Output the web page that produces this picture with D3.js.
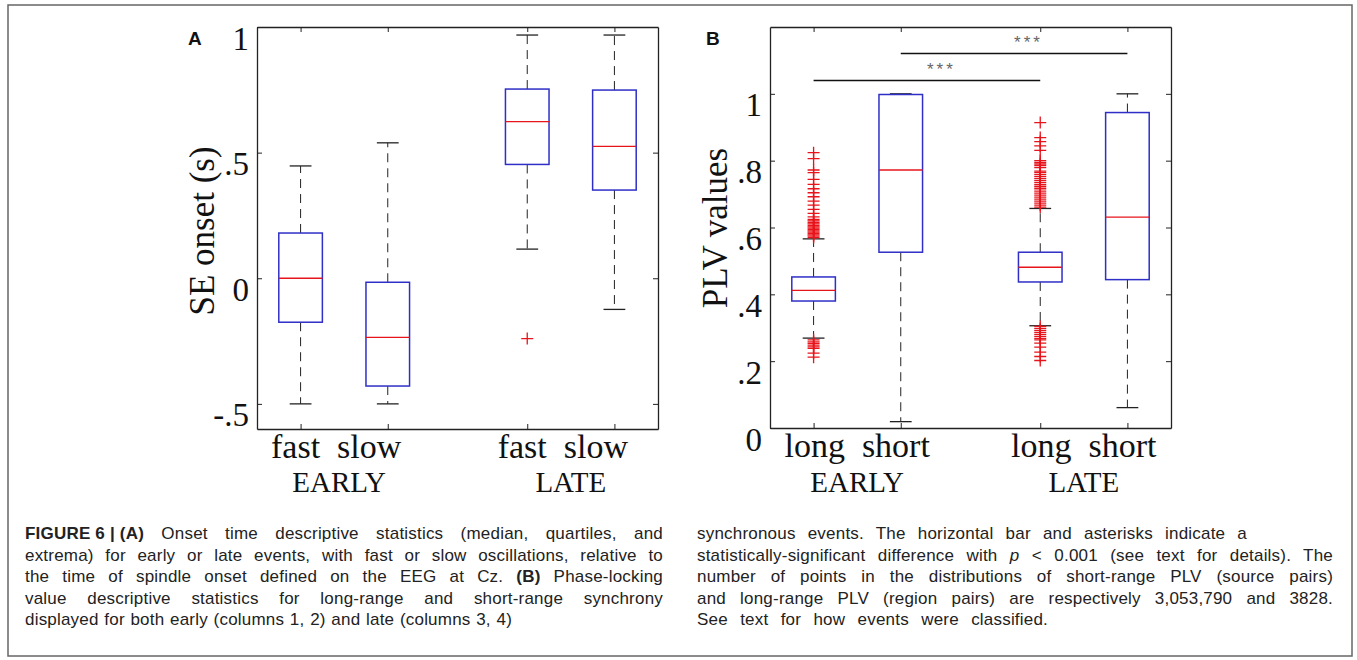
<!DOCTYPE html>
<html><head><meta charset="utf-8">
<script src="https://cdn.jsdelivr.net/npm/d3@7"></script>
<style>
body{margin:0;background:#fff;}
svg{display:block;}
</style></head><body>
<svg id="fig" width="1357" height="660"></svg>
<script>
// ---------- data ----------
const positions = [1, 2, 3.6, 4.6];
const xDomain = [0.5, 5.1];

// Panel A: SE onset (s)
const aConditions = ["fast", "slow"];
const aGroups = ["EARLY", "LATE"];
const aYTicks = [-0.5, 0, 0.5, 1];
const aYTickLabels = ["-.5", "0", ".5", "1"];
const aLow = [-0.5, -0.5, 0.116, -0.124];
const aQ1 = [-0.175, -0.429, 0.453, 0.351];
const aMed = [0.0, -0.235, 0.623, 0.525];
const aQ3 = [0.18, -0.016, 0.753, 0.749];
const aHigh = [0.447, 0.539, 0.968, 0.968];
const aOutliers = [[], [], [-0.24], []];

// Panel B: PLV values
const bConditions = ["long", "short"];
const bGroups = ["EARLY", "LATE"];
const bYTicks = [0, 0.2, 0.4, 0.6, 0.8, 1];
const bYTickLabels = ["0", ".2", ".4", ".6", ".8", "1"];
const bLow = [0.269, 0.019, 0.306, 0.061];
const bQ1 = [0.380, 0.526, 0.437, 0.444];
const bMed = [0.412, 0.772, 0.481, 0.631];
const bQ3 = [0.452, 0.998, 0.526, 0.944];
const bHigh = [0.566, 1.0, 0.657, 1.0];
const bOutliersLongEarly = [0.824, 0.806, 0.772, 0.764, 0.744, 0.729, 0.716, 0.704, 0.692, 0.679, 0.667, 0.654, 0.642, 0.632,
  0.624, 0.620, 0.615, 0.611, 0.606, 0.602, 0.598, 0.594, 0.590, 0.586, 0.582, 0.578, 0.574, 0.570,
  0.264, 0.258, 0.253, 0.248, 0.243, 0.238, 0.224, 0.212];
const bOutliersLongLate = [0.914, 0.869, 0.857, 0.844, 0.831, 0.800, 0.795, 0.790, 0.785, 0.779, 0.769, 0.764, 0.758,
  0.752, 0.746, 0.740, 0.734, 0.728, 0.722, 0.716, 0.709, 0.703, 0.697, 0.691, 0.685, 0.679, 0.673, 0.667, 0.661,
  0.304, 0.298, 0.292, 0.286, 0.280, 0.274, 0.268, 0.264, 0.254, 0.242, 0.227, 0.214, 0.202];
const bOutliers = [bOutliersLongEarly, [], bOutliersLongLate, []];
// significance bars
const sigFrom = [1, 2];
const sigTo = [3.6, 4.6];
const sigY = [1.04, 1.121];
const sigText = ["***", "***"];

// caption
const captionLeft = [
  [["FIGURE 6 | (A)", "b"], [" Onset time descriptive statistics (median, quartiles, and", ""]],
  [["extrema) for early or late events, with fast or slow oscillations, relative to", ""]],
  [["the time of spindle onset defined on the EEG at Cz. ", ""], ["(B)", "b"], [" Phase-locking", ""]],
  [["value descriptive statistics for long-range and short-range synchrony", ""]],
  [["displayed for both early (columns 1, 2) and late (columns 3, 4)", ""]]
];
const captionRight = [
  [["synchronous events. The horizontal bar and asterisks indicate a", ""]],
  [["statistically-significant difference with ", ""], ["p", "i"], [" < 0.001 (see text for details). The", ""]],
  [["number of points in the distributions of short-range PLV (source pairs)", ""]],
  [["and long-range PLV (region pairs) are respectively 3,053,790 and 3828.", ""]],
  [["See text for how events were classified.", ""]]
];

// ---------- drawing ----------
const svg = d3.select("#fig");
const SERIF = "'Liberation Serif','Times New Roman',serif";
const SANS = "'Liberation Sans',Arial,sans-serif";
const BLUE = "#2f2fc8", RED = "#e8141b", AX = "#222";

// figure border
svg.append("rect").attr("x", 8).attr("y", 5).attr("width", 1344).attr("height", 651)
  .attr("fill", "none").attr("stroke", "#666").attr("stroke-width", 1.5);

function drawPanel(cfg) {
  const W = cfg.right - cfg.left, H = cfg.bottom - cfg.top;
  const g = svg.append("g").attr("transform", `translate(${cfg.left},${cfg.top})`);
  const x = d3.scaleLinear().domain(xDomain).range([0, W]);
  const y = d3.scaleLinear().domain(cfg.yDomain).range([H, 0]);

  // axes (inward ticks on all four sides)
  const gl = g.append("g").call(d3.axisLeft(y).tickValues(cfg.yTicks)
    .tickFormat((d, i) => cfg.yTickLabels[i]).tickSizeInner(-5).tickSizeOuter(0));
  gl.selectAll("text").attr("x", -8).attr("dy", null).attr("y", 22)
    .attr("font-family", SERIF).attr("font-size", 33).attr("fill", "#111");
  g.append("g").attr("transform", `translate(${W},0)`).call(d3.axisRight(y).tickValues(cfg.yTicks)
    .tickFormat("").tickSizeInner(-5).tickSizeOuter(0));
  g.append("g").call(d3.axisTop(x).tickValues(positions).tickFormat("").tickSizeInner(-5).tickSizeOuter(0));
  g.append("g").attr("transform", `translate(0,${H})`).call(d3.axisBottom(x).tickValues(positions)
    .tickFormat("").tickSizeInner(-5).tickSizeOuter(0));
  g.selectAll(".domain").attr("stroke", AX).attr("stroke-width", 1.3);
  g.selectAll(".tick line").attr("stroke", AX).attr("stroke-width", 1);

  const idx = d3.range(positions.length);
  // whiskers
  g.selectAll(".wu").data(idx).join("line")
    .attr("x1", i => x(positions[i])).attr("x2", i => x(positions[i]))
    .attr("y1", i => y(cfg.q3[i])).attr("y2", i => y(cfg.high[i]))
    .attr("stroke", "#222").attr("stroke-width", 1).attr("stroke-dasharray", "9,6");
  g.selectAll(".wl").data(idx).join("line")
    .attr("x1", i => x(positions[i])).attr("x2", i => x(positions[i]))
    .attr("y1", i => y(cfg.q1[i])).attr("y2", i => y(cfg.low[i]))
    .attr("stroke", "#222").attr("stroke-width", 1).attr("stroke-dasharray", "9,6");
  // caps
  [cfg.high, cfg.low].forEach(arr => {
    g.append("g").selectAll("line").data(idx).join("line")
      .attr("x1", i => x(positions[i] - 0.125)).attr("x2", i => x(positions[i] + 0.125))
      .attr("y1", i => y(arr[i])).attr("y2", i => y(arr[i]))
      .attr("stroke", "#222").attr("stroke-width", 1.3);
  });
  // boxes
  g.append("g").selectAll("rect").data(idx).join("rect")
    .attr("x", i => x(positions[i] - 0.25)).attr("width", i => x(positions[i] + 0.25) - x(positions[i] - 0.25))
    .attr("y", i => y(cfg.q3[i])).attr("height", i => y(cfg.q1[i]) - y(cfg.q3[i]))
    .attr("fill", "none").attr("stroke", BLUE).attr("stroke-width", 1.5);
  // medians
  g.append("g").selectAll("line").data(idx).join("line")
    .attr("x1", i => x(positions[i] - 0.25)).attr("x2", i => x(positions[i] + 0.25))
    .attr("y1", i => y(cfg.med[i])).attr("y2", i => y(cfg.med[i]))
    .attr("stroke", RED).attr("stroke-width", 1.3);
  // outliers
  const outs = [];
  cfg.outliers.forEach((arr, i) => arr.forEach(v => outs.push({p: positions[i], v})));
  g.append("g").selectAll("path").data(outs).join("path")
    .attr("transform", d => `translate(${x(d.p)},${y(d.v)})`)
    .attr("d", "M-6,0H6M0,-6V6").attr("stroke", RED).attr("stroke-width", 1.3).attr("fill", "none");

  // significance bars
  if (cfg.sig) {
    cfg.sig.from.forEach((f, k) => {
      const t = cfg.sig.to[k], yy = y(cfg.sig.y[k]);
      g.append("line").attr("x1", x(f)).attr("x2", x(t)).attr("y1", yy).attr("y2", yy)
        .attr("stroke", "#111").attr("stroke-width", 1.5);
      g.append("text").attr("x", (x(f) + x(t)) / 2).attr("y", yy - 5)
        .attr("font-family", SANS).attr("font-size", 17).attr("letter-spacing", 3)
        .attr("fill", "#666").text(cfg.sig.text[k]);
    });
  }

  // x labels: condition row and group row
  [0, 1].forEach(gi => {
    const mid = (x(positions[gi * 2]) + x(positions[gi * 2 + 1])) / 2;
    g.append("text").attr("x", mid + cfg.condShift).attr("y", cfg.condY - cfg.top)
      .attr("text-anchor", "middle").attr("font-family", SERIF).attr("font-size", 34)
      .attr("fill", "#111").style("white-space", "pre")
      .text(cfg.conditions[0] + "  " + cfg.conditions[1]);
    g.append("text").attr("x", mid + cfg.groupShift[gi]).attr("y", cfg.groupY - cfg.top)
      .attr("text-anchor", "middle").attr("font-family", SERIF).attr("font-size", 29)
      .attr("fill", "#111").text(cfg.groups[gi]);
  });

  // y label
  svg.append("text").attr("transform", `translate(${cfg.left - 43},${cfg.yLabelY}) rotate(-90)`)
    .attr("text-anchor", "middle").attr("font-family", SERIF).attr("font-size", 35)
    .attr("fill", "#111").text(cfg.yLabel);
  // panel letter
  svg.append("text").attr("x", cfg.letterX).attr("y", 45).attr("font-family", SANS)
    .attr("font-weight", "bold").attr("font-size", 19).attr("fill", "#111").text(cfg.letter);
}

drawPanel({
  left: 257, right: 658, top: 27, bottom: 429, yDomain: [-0.6, 1],
  yTicks: aYTicks, yTickLabels: aYTickLabels,
  low: aLow, q1: aQ1, med: aMed, q3: aQ3, high: aHigh, outliers: aOutliers,
  conditions: aConditions, groups: aGroups, condY: 458, groupY: 492,
  condShift: -8, groupShift: [-5, 0],
  yLabel: "SE onset (s)", yLabelY: 231, letter: "A", letterX: 188
});
drawPanel({
  left: 770, right: 1171, top: 27, bottom: 428, yDomain: [0, 1.2],
  yTicks: bYTicks, yTickLabels: bYTickLabels,
  low: bLow, q1: bQ1, med: bMed, q3: bQ3, high: bHigh, outliers: bOutliers,
  conditions: bConditions, groups: bGroups, condY: 457, groupY: 492,
  condShift: 0, groupShift: [0, 0],
  yLabel: "PLV values", yLabelY: 228, letter: "B", letterX: 706,
  sig: {from: sigFrom, to: sigTo, y: sigY, text: sigText}
});

// caption: justified lines, extra space only added between regular-weight words
function drawCaption(lines, x0, ends) {
  lines.forEach((segs, li) => {
    const t = svg.append("text").attr("x", x0).attr("y", 539 + li * 21.5)
      .attr("font-family", SANS).attr("font-size", 17).attr("letter-spacing", 0.2).attr("fill", "#222")
      .style("white-space", "pre");
    const spans = [];
    let spaces = 0;
    segs.forEach(([s, st]) => {
      const ts = t.append("tspan").text(s);
      if (st === "b") ts.attr("font-weight", "bold");
      if (st === "i") ts.attr("font-style", "italic");
      if (st !== "b") { spaces += (s.match(/ /g) || []).length; spans.push(ts); }
    });
    const target = ends[li] - x0;
    const nat = t.node().getComputedTextLength();
    if (spaces > 0) {
      const ws = Math.max(0, (target - nat) / spaces);
      spans.forEach(ts => ts.attr("word-spacing", ws));
    }
  });
}
drawCaption(captionLeft, 25, [663, 663, 663, 663, 512]);
drawCaption(captionRight, 697, [1247, 1333, 1333, 1333, 1048]);
</script>
</body></html>
